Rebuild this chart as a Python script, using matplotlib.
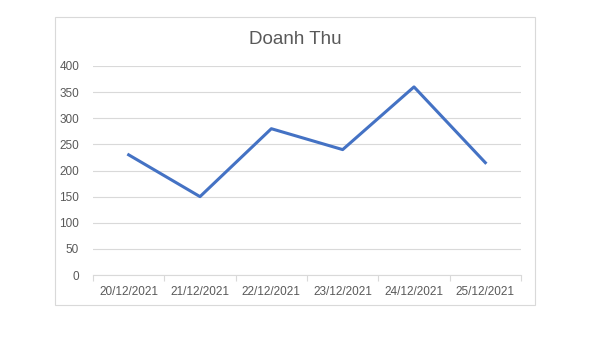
import numpy as np
import matplotlib
matplotlib.use("Agg")
from matplotlib import pyplot as plt
from matplotlib.patches import Rectangle

# data
dates = ['20/12/2021', '21/12/2021', '22/12/2021', '23/12/2021', '24/12/2021', '25/12/2021']
doanh_thu = [230, 150, 280, 240, 360, 215]
y_ticks = [0, 50, 100, 150, 200, 250, 300, 350, 400]

grid_col = '#D9D9D9'
text_col = '#595959'
line_col = '#4472C4'

plt.rcParams['font.family'] = ['Liberation Sans', 'DejaVu Sans']

fig = plt.figure(figsize=(6.05, 3.39), dpi=100)
W, H = 605, 339

# outer chart border
fig.patches.append(Rectangle((55 / W, 1 - 305 / H), 480 / W, 288 / H,
                             transform=fig.transFigure, fill=False,
                             edgecolor=grid_col, linewidth=0.8))

ax = fig.add_axes([93 / W, 1 - 275 / H, 428 / W, 209 / H])
x = np.arange(len(dates))
ax.plot(x, doanh_thu, color=line_col, linewidth=2.2, solid_joinstyle='round', zorder=3)

ax.set_xlim(-0.5, len(dates) - 0.5)
ax.set_ylim(0, 400)
ax.set_yticks(y_ticks)
ax.set_xticks(x)
ax.set_xticklabels(dates)
ax.set_xticks(np.arange(-0.5, len(dates)), minor=True)

ax.grid(axis='y', color=grid_col, linewidth=0.8)
ax.set_axisbelow(True)
for s in ['top', 'right', 'left']:
    ax.spines[s].set_visible(False)
ax.spines['bottom'].set_color(grid_col)
ax.spines['bottom'].set_linewidth(0.8)

ax.tick_params(axis='y', length=0, pad=10, labelsize=8.5, labelcolor=text_col)
ax.tick_params(axis='x', which='major', length=0, pad=8, labelsize=8.5, labelcolor=text_col)
ax.tick_params(axis='x', which='minor', length=4, color=grid_col, width=0.8)

fig.text(295 / W, 1 - 40 / H, 'Doanh Thu', ha='center', va='center',
         fontsize=13.5, color=text_col)

fig.savefig('out.png', dpi=100)
